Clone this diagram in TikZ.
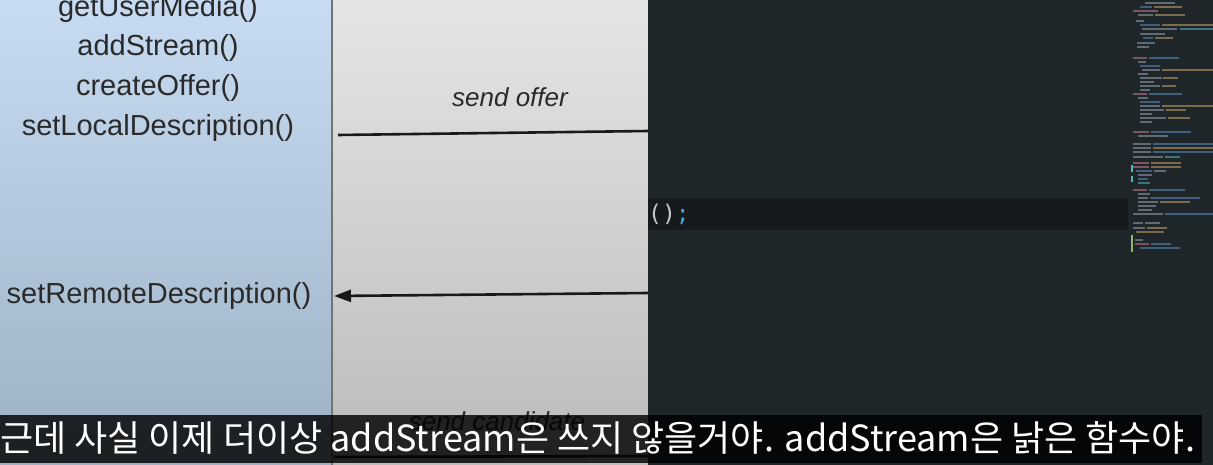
\documentclass[tikz,border=0pt]{standalone}
\usepackage{fontspec}
\setmainfont{Liberation Sans}
\newfontfamily\krfont{Noto Sans CJK KR}
\newfontfamily\codefont{DejaVu Sans Mono}
\usetikzlibrary{arrows.meta}
\definecolor{lblueT}{HTML}{C7DCF2}
\definecolor{lblueB}{HTML}{9DB1C4}
\definecolor{grayT}{HTML}{E5E5E5}
\definecolor{grayB}{HTML}{BBBBBB}
\definecolor{edbg}{HTML}{1F262A}
\definecolor{edband}{HTML}{161A1D}
\definecolor{codegray}{HTML}{C4CACE}
\definecolor{codeblue}{HTML}{3FA9E0}
\definecolor{txt}{HTML}{2A2A2A}
\definecolor{mmb}{HTML}{5C8FC0}
\definecolor{mmo}{HTML}{C9A46A}
\definecolor{mmg}{HTML}{8DB86B}
\definecolor{mmw}{HTML}{9AA4AD}
\definecolor{mmp}{HTML}{C77D8E}
\definecolor{mmc}{HTML}{56B6C2}
\tikzset{
  fn/.style={font=\fontsize{29}{32}\selectfont, text=txt, inner sep=0pt},
  msg/.style={font=\itshape\fontsize{26}{28}\selectfont, text=txt, inner sep=0pt},
  wire/.style={line width=2.6pt, color=black!90},
}
\begin{document}
\begin{tikzpicture}[x=1pt,y=-1pt]
\useasboundingbox (0,0) rectangle (1213,465);
% panels
\shade[top color=lblueT, bottom color=lblueB] (0,0) rectangle (332,465);
\shade[top color=grayT, bottom color=grayB] (332,0) rectangle (648,465);
\draw[line width=2pt, color=black!55] (332,0) -- (332,465);
\fill[edbg] (648,0) rectangle (1213,465);
\fill[edband] (648,198) rectangle (1128,230);
% function names
\node[fn] (gum) at (158,9) {getUserMedia()};
\node[fn] (ads) at (158,48) {addStream()};
\node[fn] (cof) at (158,88) {createOffer()};
\node[fn] (sld) at (158,128) {setLocalDescription()};
\node[fn] (srd) at (159,296) {setRemoteDescription()};
% messages
\node[msg] (so) at (510,97) {send offer};
\node[msg] (sc) at (497,421) {send candidate};
\coordinate (offL) at (338,135);
\coordinate (offR) at (648,131);
\draw[wire] (offL) -- (offR);
\coordinate (remR) at (648,293);
\coordinate (remL) at (334,296);
\draw[wire, -{Triangle[length=17pt,width=12pt]}] (remR) -- (remL);
\coordinate (canL) at (334,457);
\coordinate (canR) at (648,456);
\draw[wire] (canL) -- (canR);
% code
\node[anchor=west, inner sep=0pt, font=\codefont\fontsize{23}{25}\selectfont] (code) at (648,214)
  {\textcolor{codegray}{()}\textcolor{codeblue}{;}};
% minimap
\foreach \yy/\xa/\len/\cc in {
2/1145/30/mmw, 6/1140/12/mmb, 6/1154/28/mmo, 10/1133/25/mmp, 14/1138/15/mmw, 14/1155/30/mmo,
20/1136/8/mmw, 24/1140/20/mmb, 24/1162/51/mmo, 28/1142/35/mmw, 28/1180/33/mmc,
33/1140/25/mmw, 37/1143/10/mmb, 37/1155/18/mmo, 42/1137/18/mmw, 46/1137/12/mmw,
57/1133/14/mmp, 57/1149/30/mmb, 61/1138/8/mmw, 65/1140/20/mmb, 69/1142/18/mmw, 69/1162/51/mmo,
73/1138/10/mmw, 77/1140/22/mmw, 77/1163/15/mmo, 81/1140/14/mmw, 85/1140/20/mmw, 85/1162/14/mmo, 89/1140/10/mmw,
93/1133/14/mmp, 93/1149/33/mmb, 97/1138/10/mmw, 101/1140/20/mmb, 105/1140/20/mmw, 105/1162/51/mmo,
109/1140/24/mmw, 109/1166/20/mmo, 113/1140/12/mmw, 117/1140/26/mmw, 117/1168/22/mmo, 121/1140/12/mmw,
131/1133/16/mmp, 131/1151/40/mmb, 135/1138/30/mmw,
143/1133/18/mmw, 143/1153/60/mmb, 147/1133/18/mmw, 147/1153/60/mmo, 151/1133/18/mmw, 151/1153/60/mmb,
156/1133/30/mmw, 156/1165/15/mmc,
162/1133/16/mmp, 162/1151/30/mmo, 166/1133/16/mmp, 166/1151/30/mmo,
170/1136/16/mmb, 170/1154/12/mmw, 174/1138/14/mmw, 178/1138/10/mmb, 182/1138/12/mmc,
189/1133/14/mmp, 189/1149/36/mmb, 193/1138/12/mmw, 197/1138/10/mmw, 197/1150/50/mmb,
201/1138/20/mmw, 201/1160/30/mmo, 205/1138/18/mmw, 209/1138/14/mmw,
213/1133/30/mmw, 213/1165/48/mmb,
222/1133/10/mmw, 222/1145/15/mmw,
227/1133/12/mmw, 227/1147/20/mmo, 231/1136/28/mmo,
239/1135/8/mmw, 243/1135/14/mmp, 243/1151/20/mmb, 247/1140/40/mmb}
  \fill[\cc, opacity=0.55] (\xa,\yy) rectangle ++(\len,1.6);
\fill[mmg] (1131,235) rectangle (1133,252);
\fill[mmc] (1131,165) rectangle (1133,172);
\fill[mmc] (1131,176) rectangle (1133,182);
% subtitle
\fill[black, opacity=0.82] (0,415) rectangle (1202,463);
\node[anchor=west, inner sep=0pt, text=white, font=\krfont\fontsize{36}{38}\selectfont] (sub) at (0,438)
  {근데 사실 이제 더이상 addStream은 쓰지 않을거야. addStream은 낡은 함수야.};
\end{tikzpicture}
\end{document}
